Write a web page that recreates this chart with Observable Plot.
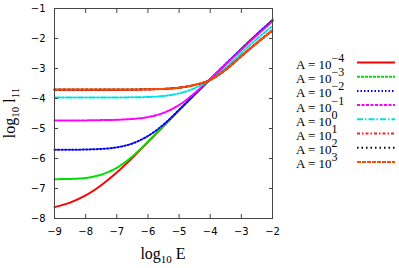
<!DOCTYPE html>
<html><head><meta charset="utf-8">
<script src="https://cdn.jsdelivr.net/npm/d3@7"></script>
<script src="https://cdn.jsdelivr.net/npm/@observablehq/plot@0.6"></script>
<style>
body{margin:0;background:#fff}
#chart{position:relative;width:399px;height:268px}
</style>
</head><body><div id="chart"></div>
<script>
// x values: log10 E
const logE = [-9,-8.5,-8,-7.5,-7,-6.5,-6,-5.5,-5,-4.5,-4,-3.5,-3,-2.5,-2];
// log10 l11 for each A
const yAm4 = [-7.62,-7.47,-7.23,-6.89,-6.47,-5.98,-5.45,-4.92,-4.39,-3.87,-3.36,-2.85,-2.35,-1.86,-1.39];
const yAm3 = [-6.69,-6.68,-6.65,-6.54,-6.31,-5.93,-5.44,-4.92,-4.39,-3.87,-3.36,-2.85,-2.35,-1.86,-1.39];
const yAm2 = [-5.71,-5.71,-5.70,-5.68,-5.63,-5.50,-5.25,-4.87,-4.38,-3.87,-3.36,-2.85,-2.35,-1.86,-1.39];
const yAm1 = [-4.73,-4.73,-4.73,-4.72,-4.71,-4.68,-4.62,-4.48,-4.22,-3.82,-3.35,-2.86,-2.37,-1.89,-1.43];
const yA0  = [-3.97,-3.97,-3.97,-3.97,-3.97,-3.96,-3.95,-3.92,-3.83,-3.66,-3.38,-2.97,-2.48,-2.02,-1.58];
const yA1  = [-3.72,-3.72,-3.72,-3.72,-3.72,-3.71,-3.70,-3.68,-3.64,-3.55,-3.38,-3.03,-2.58,-2.14,-1.72];
const yA2  = [-3.70,-3.70,-3.70,-3.70,-3.70,-3.70,-3.69,-3.68,-3.64,-3.55,-3.38,-3.04,-2.59,-2.15,-1.73];
const yA3  = [-3.70,-3.70,-3.70,-3.70,-3.70,-3.70,-3.69,-3.68,-3.64,-3.55,-3.38,-3.04,-2.59,-2.15,-1.73];
const seriesY = [yAm4, yAm3, yAm2, yAm1, yA0, yA1, yA2, yA3];
const exponents = ["\u22124","\u22123","\u22122","\u22121","0","1","2","3"];
const xTicks = [-9,-8,-7,-6,-5,-4,-3,-2];
const yTicks = [-8,-7,-6,-5,-4,-3,-2,-1];

// styles
const colors = ["#ff0000","#00e000","#0000ff","#ff00ff","#00e0e0","#ff2020","#000000","#ff4800"];
const dashes = [null,"3,1","1.5,2","3,1.5","6,2,1.5,2","3,2,1.5,2","1.5,3","4,1"];

const rows = [];
seriesY.forEach((ys, i) => ys.forEach((y, j) => rows.push({x: logE[j], y, s: i})));

const W = 399, H = 268;
const mL = 54, mR = 127, mT = 8, mB = 50;

const marks = [];
seriesY.forEach((_, i) => {
  marks.push(Plot.line(rows.filter(d => d.s === i), {
    x: "x", y: "y", curve: "catmull-rom",
    stroke: colors[i], strokeWidth: 2,
    strokeDasharray: dashes[i] || undefined
  }));
});

const plot = Plot.plot({
  width: W, height: H,
  marginLeft: mL, marginRight: mR, marginTop: mT, marginBottom: mB,
  style: {fontFamily: "DejaVu Sans", fontSize: "10px", color: "#000", background: "#fff"},
  x: {domain: [-9, -2]},
  y: {domain: [-8, -1]},
  marks: [
    ...marks,
    Plot.axisX(xTicks, {anchor: "bottom", tickSize: -4, text: null, label: null, stroke: "#444"}),
    Plot.axisX(xTicks, {anchor: "top", tickSize: -4, text: null, label: null, stroke: "#444"}),
    Plot.axisY(yTicks, {anchor: "left", tickSize: -4, text: null, label: null, stroke: "#444"}),
    Plot.axisY(yTicks, {anchor: "right", tickSize: -4, text: null, label: null, stroke: "#444"}),
    Plot.axisX(xTicks, {anchor: "bottom", tickSize: 0, tickPadding: 9, label: null, fill: "#000"}),
    Plot.axisY(yTicks, {anchor: "left", tickSize: 0, tickPadding: 9, label: null, fill: "#000"}),
    Plot.frame({stroke: "#444", strokeWidth: 1})
  ]
});
document.getElementById("chart").appendChild(plot);

const svg = d3.select(plot);
const xs = plot.scale("x"), ys = plot.scale("y");
const cx = (xs.range[0] + xs.range[1]) / 2;
const cy = (ys.range[0] + ys.range[1]) / 2;
const serif = "'Liberation Serif', 'Times New Roman', serif";

// x axis title
const xt = svg.append("text").attr("x", cx).attr("y", 259).attr("text-anchor", "middle")
  .style("font-family", serif).style("font-size", "16px").attr("fill", "#000");
xt.append("tspan").text("log");
xt.append("tspan").attr("dy", 4).style("font-size", "11px").text("10");
xt.append("tspan").attr("dy", -4).text(" E");

// y axis title
const yt = svg.append("text").attr("transform", `translate(15,${cy}) rotate(-90)`).attr("text-anchor", "middle")
  .style("font-family", serif).style("font-size", "16px").attr("fill", "#000");
yt.append("tspan").text("log");
yt.append("tspan").attr("dy", 4).style("font-size", "11px").text("10");
yt.append("tspan").attr("dy", -4).text(" l");
yt.append("tspan").attr("dy", 4).style("font-size", "11px").text("11");

// legend
const lg = svg.append("g").attr("text-anchor", "start");
exponents.forEach((e, i) => {
  const base = 69 + i * 14.2;
  const t = lg.append("text").attr("x", 296).attr("y", base).attr("text-anchor", "start")
    .style("font-family", serif).style("font-size", "13px").attr("fill", "#000");
  t.append("tspan").text("A = 10");
  t.append("tspan").attr("dy", -7).style("font-size", "12px").text(e);
  lg.append("line").attr("x1", 357).attr("x2", 395).attr("y1", base - 6.5).attr("y2", base - 6.5)
    .attr("stroke", colors[i]).attr("stroke-width", 2)
    .attr("stroke-dasharray", dashes[i] || null);
});
</script>
</body></html>
